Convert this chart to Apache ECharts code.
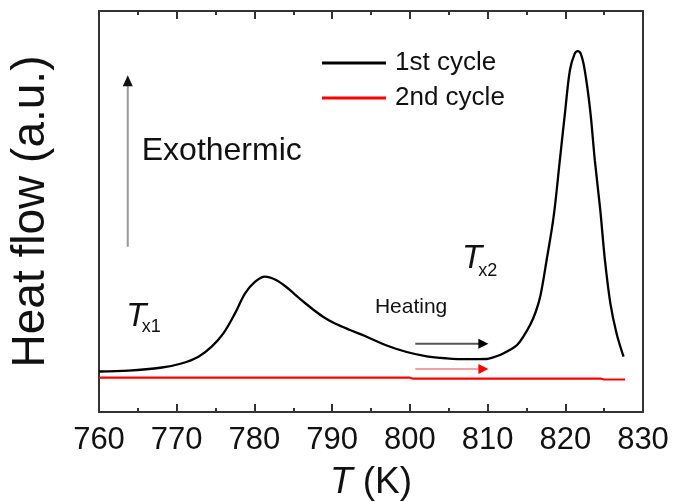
<!DOCTYPE html>
<html><head><meta charset="utf-8">
<script src="https://cdn.jsdelivr.net/npm/echarts@6/dist/echarts.min.js"></script>
<style>html,body{margin:0;padding:0;background:#fff}#c{width:675px;height:502px}</style>
</head><body><div id="c"></div>
<script>
// ---- data ----
const xTickLabels = [760, 770, 780, 790, 800, 810, 820, 830];
const seriesNames = ['1st cycle', '2nd cycle'];
const cycle1T = [760.0, 763.8, 768.1, 770.6, 772.8, 774.5, 776.0, 777.5, 778.8, 780.1, 781.36, 782.65, 783.94, 785.22, 786.51, 787.8, 789.08, 790.37, 792.3, 794.23, 797.02, 799.6, 802.17, 804.74, 807.32, 809.89, 810.7, 811.6, 812.9, 813.8, 814.6, 815.5, 816.2, 816.8, 817.6, 818.5, 819.3, 820.0, 820.6, 821.2, 821.6, 822.0, 822.5, 823.2, 823.8, 824.5, 825.1, 825.8, 826.6, 827.5];
const cycle1V = [10.1, 10.3, 11.1, 12.1, 13.8, 16.3, 19.6, 24.6, 29.6, 32.5, 33.74, 33.04, 31.42, 29.3, 27.18, 25.19, 23.44, 22.07, 20.45, 18.95, 16.58, 14.96, 13.89, 13.39, 13.17, 13.22, 13.6, 14.2, 15.5, 16.7, 18.8, 21.8, 25.0, 29.0, 37.9, 48.7, 62.8, 75.3, 85.3, 89.3, 90.0, 89.3, 85.3, 75.3, 62.8, 50.4, 37.9, 27.1, 19.6, 13.8];
const cycle2T = [760.0, 800.0, 800.4, 824.6, 825.0, 827.7];
const cycle2V = [8.55, 8.55, 8.3, 8.3, 8.1, 8.1];

const FONT = '"Liberation Sans", Arial, sans-serif';
const zip = (a, b) => a.map((v, i) => [v, b[i]]);

const chart = echarts.init(document.getElementById('c'), null, {renderer: 'canvas'});
const frame = {show: true, onZero: false, lineStyle: {color: '#333', width: 2}};
const option = {
  backgroundColor: '#fff',
  animation: false,
  grid: {left: 99, right: 32, top: 11, bottom: 90, outerBoundsMode: 'none', containLabel: false},
  legend: {
    orient: 'vertical', left: 322, top: 50, padding: 0, itemWidth: 64, itemHeight: 3, itemGap: 9,
    icon: 'rect', data: seriesNames,
    textStyle: {fontFamily: FONT, fontSize: 26, color: '#111', padding: [0, 0, 0, 4]}
  },
  xAxis: [{
    type: 'value', min: 760, max: 830, interval: 10, position: 'bottom',
    axisLine: frame,
    axisTick: {show: true, inside: true, length: 8, lineStyle: {color: '#333', width: 2}},
    minorTick: {show: true, splitNumber: 2, length: 4, lineStyle: {color: '#333', width: 2}},
    splitLine: {show: false},
    axisLabel: {fontFamily: FONT, fontSize: 31, color: '#111', margin: 13,
      formatter: v => xTickLabels.includes(v) ? String(v) : ''},
    name: '{i|T} (K)', nameLocation: 'middle', nameGap: 52,
    nameTextStyle: {fontFamily: FONT, fontSize: 37, color: '#111',
      rich: {i: {fontFamily: FONT, fontSize: 37, fontStyle: 'italic', color: '#111'}}}
  }, {
    type: 'value', min: 760, max: 830, interval: 10, position: 'top',
    axisLine: frame,
    axisTick: {show: true, inside: true, length: 8, lineStyle: {color: '#333', width: 2}},
    minorTick: {show: true, splitNumber: 2, length: 4, lineStyle: {color: '#333', width: 2}},
    splitLine: {show: false}, axisLabel: {show: false}
  }],
  yAxis: [{
    type: 'value', min: 0, max: 100, position: 'left',
    axisLine: frame, axisTick: {show: false}, axisLabel: {show: false}, splitLine: {show: false},
    name: 'Heat flow (a.u.)', nameLocation: 'middle', nameGap: 45,
    nameTextStyle: {fontFamily: FONT, fontSize: 46, color: '#111'}
  }, {
    type: 'value', min: 0, max: 100, position: 'right',
    axisLine: frame, axisTick: {show: false}, axisLabel: {show: false}, splitLine: {show: false}
  }],
  series: [{
    name: seriesNames[0], type: 'line', data: zip(cycle1T, cycle1V), symbol: 'none',
    smooth: 0.35, color: '#000', lineStyle: {color: '#000', width: 2.3}, z: 3
  }, {
    name: seriesNames[1], type: 'line', data: zip(cycle2T, cycle2V), symbol: 'none',
    color: '#ff0000', lineStyle: {color: '#ff0000', width: 2.2}, z: 2
  }]
};
chart.setOption(option);

// ---- annotations (placed in data coordinates) ----
const P = (t, v) => chart.convertToPixel({xAxisIndex: 0, yAxisIndex: 0}, [t, v]);
function arrow(t0, v0, t1, v1, lineColor, headColor, headLen, headHalf) {
  const a = P(t0, v0), b = P(t1, v1);
  const dx = b[0] - a[0], dy = b[1] - a[1], L = Math.hypot(dx, dy);
  const ux = dx / L, uy = dy / L;
  const base = [b[0] - ux * headLen, b[1] - uy * headLen];
  return [{
    type: 'line', shape: {x1: a[0], y1: a[1], x2: base[0] + ux, y2: base[1] + uy},
    style: {stroke: lineColor, lineWidth: 2}
  }, {
    type: 'polygon', shape: {points: [b, [base[0] - uy * headHalf, base[1] + ux * headHalf], [base[0] + uy * headHalf, base[1] - ux * headHalf]]},
    style: {fill: headColor}
  }];
}
function txt(t, v, s, size, opts) {
  const p = P(t, v);
  return {type: 'text', x: p[0], y: p[1], style: Object.assign({text: s, font: size + 'px ' + FONT, fill: '#111', textVerticalAlign: 'middle'}, opts || {})};
}
const g = [];
g.push(...arrow(763.7, 41.2, 763.7, 84.0, '#999', '#111', 11, 5));
g.push(...arrow(800.7, 17.0, 810.1, 17.0, '#555', '#000', 10, 5));
g.push(...arrow(800.7, 10.7, 810.1, 10.7, '#f5a0a0', '#ff0000', 10, 5));
g.push(txt(765.5, 65.0, 'Exothermic', 32));
g.push(txt(795.5, 26.2, 'Heating', 21));
g.push(txt(763.5, 23.7, 'T', 33, {font: 'italic 33px ' + FONT}));
g.push(txt(765.5, 21.3, 'x1', 18));
g.push(txt(806.7, 38.2, 'T', 33, {font: 'italic 33px ' + FONT}));
g.push(txt(808.8, 35.1, 'x2', 18));
chart.setOption({graphic: g});
</script>
</body></html>
